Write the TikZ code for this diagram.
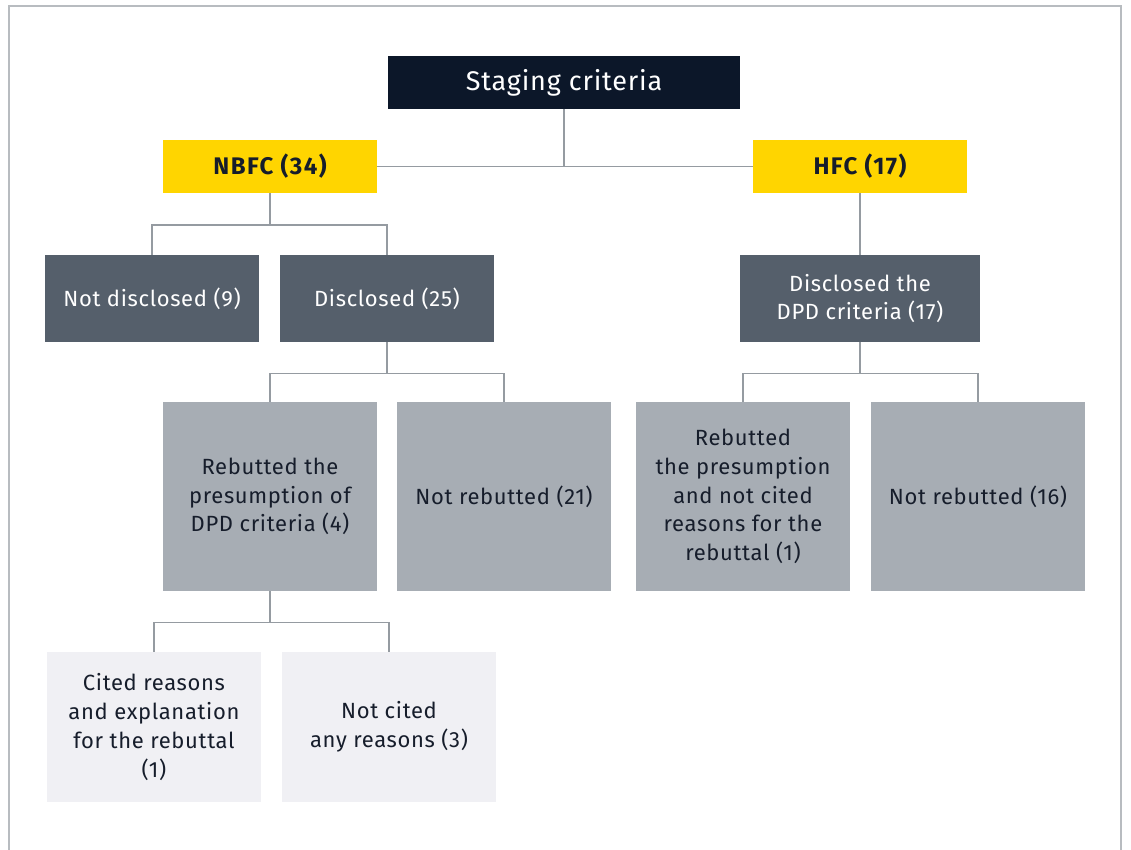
\documentclass[tikz,border=0pt]{standalone}
\usepackage{fontspec}
\setmainfont[LetterSpace=3]{Fira Sans}
\definecolor{eynavy}{HTML}{0C1729}
\definecolor{eyyellow}{HTML}{FFD500}
\definecolor{eyslate}{HTML}{555F6B}
\definecolor{eygrey}{HTML}{A7ADB4}
\definecolor{eypale}{HTML}{F0F0F4}
\definecolor{eyline}{HTML}{959BA1}
\definecolor{eyframe}{HTML}{B8BCC0}
\definecolor{eytext}{HTML}{161D2B}
\begin{document}
\begin{tikzpicture}[x=1pt, y=-1pt,
    box/.style={inner sep=0pt, align=center, font=\fontsize{22}{28.7}\selectfont,
        minimum width=214pt},
    headbox/.style={box, fill=eynavy, text=white, minimum width=352pt, minimum height=53pt,
        font=\fontsize{27}{30}\selectfont},
    groupbox/.style={box, fill=eyyellow, text=eytext, minimum height=53pt,
        font=\fontsize{24}{28}\selectfont\bfseries\addfontfeature{LetterSpace=6}},
    darkbox/.style={box, fill=eyslate, text=white, minimum height=87pt},
    midbox/.style={box, fill=eygrey, text=eytext, minimum height=189pt},
    palebox/.style={box, fill=eypale, text=eytext, minimum height=150pt},
    link/.style={draw=eyline, line width=1.4pt}]
    \useasboundingbox (0,0) rectangle (1131,850);
    % --- frame, open at the bottom ---
    \draw[eyframe, line width=2pt] (8.5,850) -- (8.5,6.5) -- (1120.5,6.5) -- (1120.5,850);

    % --- top levels ---
    \node[headbox] (head) at (564,82.5) {Staging criteria};
    \node[groupbox] (nbfc) at (270,166.5) {NBFC (34)};
    \node[groupbox] (hfc) at (860,166.5) {HFC (17)};

    % --- NBFC branch ---
    \node[darkbox] (notdisc) at (152,298.5) {Not disclosed (9)};
    \node[darkbox] (disc) at (387,298.5) {Disclosed (25)};
    \node[midbox] (rebut) at (270,496.5) {Rebutted the\\presumption of\\DPD criteria (4)};
    \node[midbox] (notrebut) at (504,496.5) {Not rebutted (21)};
    \node[palebox] (cited) at (154,727) {Cited reasons\\and explanation\\for the rebuttal\\(1)};
    \node[palebox] (notcited) at (389,727) {Not cited\\any reasons (3)};

    % --- HFC branch ---
    \node[darkbox, minimum width=240pt] (dpd) at (860,298.5) {Disclosed the\\DPD criteria (17)};
    \node[midbox] (rebuthfc) at (743,496.5) {Rebutted\\the presumption\\and not cited\\reasons for the\\rebuttal (1)};
    \node[midbox] (notrebuthfc) at (978,496.5) {Not rebutted (16)};

    % --- connectors ---
    \draw[link] (nbfc.east) -- (hfc.west);
    \draw[link] (head.south) -- (head.south |- nbfc.east);

    \draw[link] (nbfc.south) -- +(0,32) coordinate (jnbfc);
    \draw[link] (notdisc.north) |- (jnbfc) -| (disc.north);

    \draw[link] (disc.south) -- +(0,31) coordinate (jdisc);
    \draw[link] (rebut.north) |- (jdisc) -| (notrebut.north);

    \draw[link] (rebut.south) -- +(0,31) coordinate (jrebut);
    \draw[link] (cited.north) |- (jrebut) -| (notcited.north);

    \draw[link] (hfc.south) -- (dpd.north);
    \draw[link] (dpd.south) -- +(0,31) coordinate (jdpd);
    \draw[link] (rebuthfc.north) |- (jdpd) -| (notrebuthfc.north);
\end{tikzpicture}
\end{document}
